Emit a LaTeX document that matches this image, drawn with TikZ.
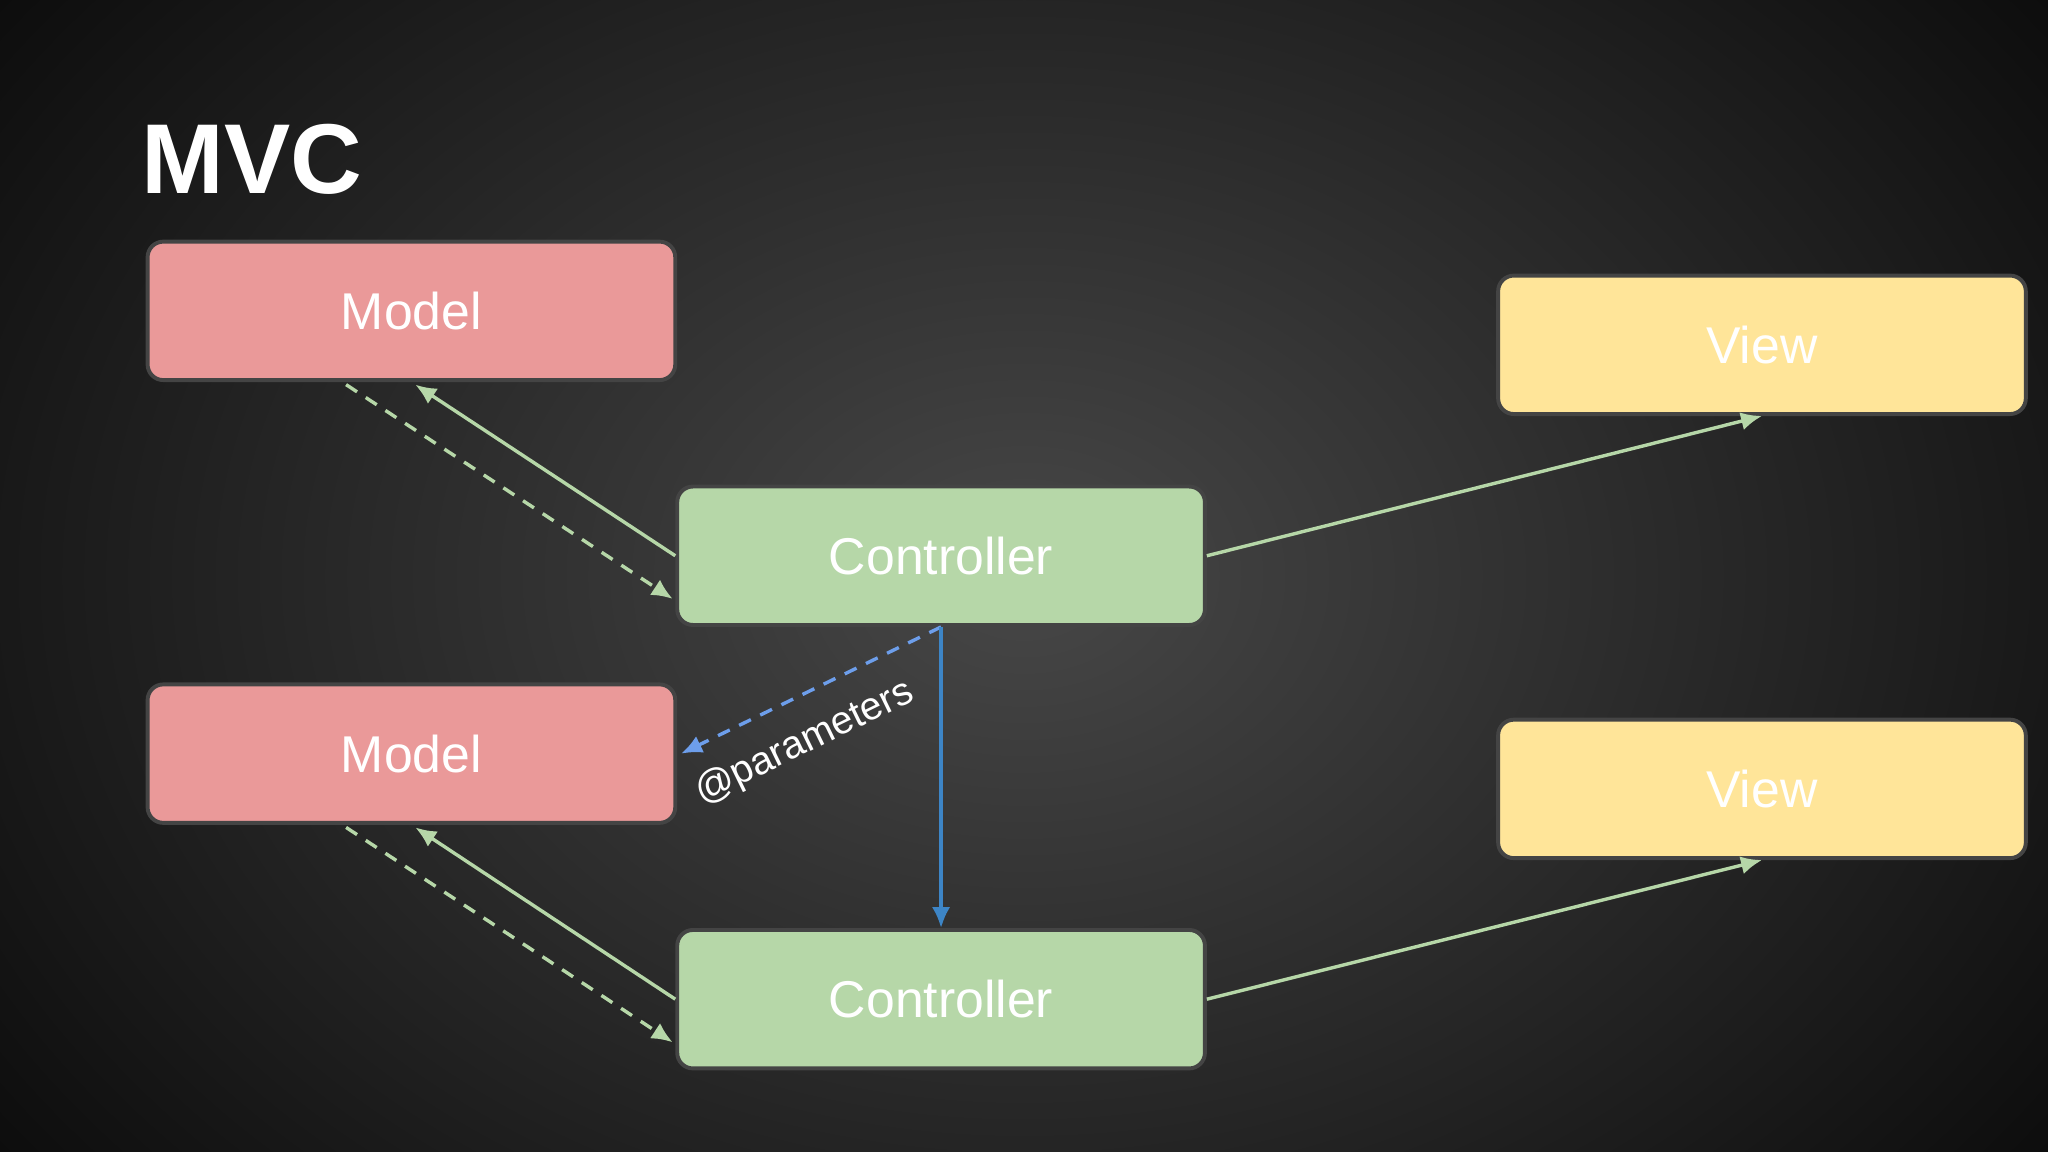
\documentclass[tikz,border=0pt]{standalone}
\usepackage{fontspec}
\setmainfont{Liberation Sans}
\usetikzlibrary{arrows.meta,calc}
\definecolor{mred}{HTML}{EA9999}
\definecolor{cgreen}{HTML}{B6D7A8}
\definecolor{vyel}{HTML}{FFE599}
\definecolor{bord}{HTML}{444444}
\definecolor{lgreen}{HTML}{B6D7A8}
\definecolor{blueA}{HTML}{6D9EEB}
\definecolor{blueB}{HTML}{3D85C6}
\begin{document}
\begin{tikzpicture}[x=0.5pt,y=-0.5pt,
  box/.style={draw=bord,line width=1.5pt,rounded corners=6pt,minimum width=202pt,minimum height=53pt,text=white,font=\fontsize{19.8}{22}\selectfont,inner sep=0pt},
  ga/.style={draw=lgreen,line width=1.3pt,-{Latex[length=8pt,width=7pt]}},
  gd/.style={ga,dash pattern=on 5pt off 4pt}]
\useasboundingbox (0,0) rectangle (1568,882);
\shade[inner color=black!72,outer color=black!95] (-200,-300) rectangle (1768,1182);
\node[anchor=base west,text=white,font=\bfseries\fontsize{38}{42}\selectfont,inner sep=0pt] (t) at (108,148) {MVC};
\node[box,fill=mred] (m1) at (315,238) {Model};
\node[box,fill=mred] (m2) at (315,577) {Model};
\node[box,fill=cgreen] (c1) at (720.5,425.5) {Controller};
\node[box,fill=cgreen] (c2) at (720.5,765) {Controller};
\node[box,fill=vyel] (v1) at (1349,264) {View};
\node[box,fill=vyel] (v2) at (1349,604) {View};
\draw[ga] (c1.west) -- ($(m1.south)+(3,2)$);
\draw[gd] ($(m1.south)+(-50,2)$) -- ($(c1.west)+(-2,33)$);
\draw[ga] (c2.west) -- ($(m2.south)+(3,2)$);
\draw[gd] ($(m2.south)+(-50,2)$) -- ($(c2.west)+(-2,33)$);
\draw[ga] (c1.east) -- (v1.south);
\draw[ga] (c2.east) -- (v2.south);
\draw[draw=blueA,line width=1.3pt,dash pattern=on 5pt off 4pt,-{Latex[length=8pt,width=7pt]}] (c1.south) -- ($(m2.east)+(3,0)$)
  node[pos=0.6,sloped,below,text=white,font=\fontsize{15}{17}\selectfont,yshift=-6pt] (p) {@parameters};
\draw[draw=blueB,line width=1.3pt,-{Latex[length=8pt,width=7pt]}] (c1.south) -- (c2.north);
\end{tikzpicture}
\end{document}
